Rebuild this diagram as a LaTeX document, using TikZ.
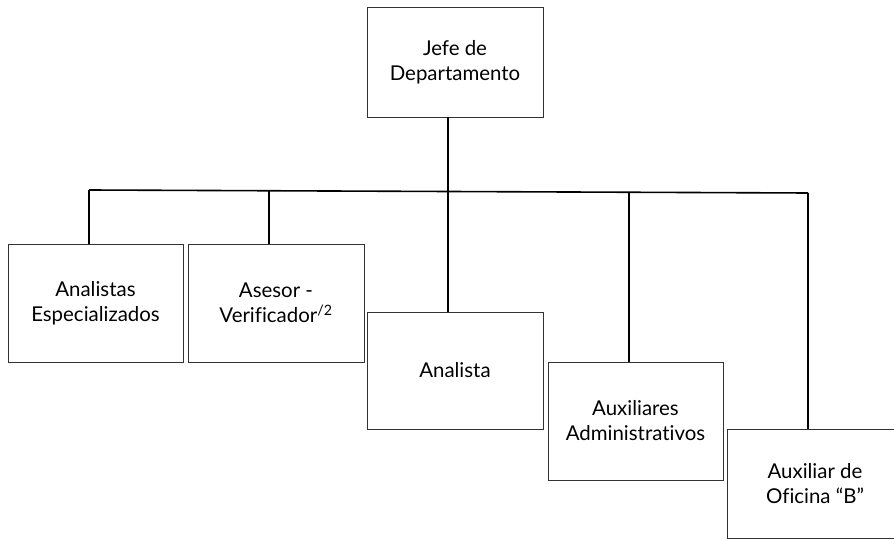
\documentclass[tikz,border=0pt]{standalone}
\usepackage{fontspec}
\setmainfont{Lato}[Ligatures=NoCommon]
\begin{document}
\begin{tikzpicture}[x=1bp,y=-1bp,
  orgbox/.style={draw=black!80, line width=0.9bp, fill=white, align=center, inner sep=0pt,
    minimum width=176bp, minimum height=118bp, font=\fontsize{20.5}{25}\selectfont},
  link/.style={draw=black, line width=1.6bp}]
\clip (0,0) rectangle (894,540);
\fill[white] (0,0) rectangle (894,540);
\node[orgbox, minimum height=110bp] (jefe) at (455,62) {Jefe de\\Departamento};
\node[orgbox, minimum width=175bp] (ae) at (95.5,303) {Analistas\\Especializados};
\node[orgbox] (av) at (276,303) {Asesor -\\Verificador\textsuperscript{/2}};
\node[orgbox, minimum height=117bp] (an) at (455,370.5) {Analista};
\node[orgbox, minimum width=175bp] (aux) at (635.5,421) {Auxiliares\\Administrativos};
\node[orgbox, minimum height=109bp] (aob) at (815,483.5) {Auxiliar de\\Oficina “B”};
\coordinate (bl) at (89,190);
\coordinate (j2) at (269,190.7);
\coordinate (j3) at (448,191.5);
\coordinate (j4) at (629,192.3);
\coordinate (br) at (808,193);
\draw[link] (bl) -- (br);
\draw[link] (jefe.south -| j3) -- (j3 |- an.north);
\draw[link] (bl) -- (bl |- ae.north);
\draw[link] (j2) -- (j2 |- av.north);
\draw[link] (j4) -- (j4 |- aux.north);
\draw[link] (br) -- (br |- aob.north);
\end{tikzpicture}
\end{document}
